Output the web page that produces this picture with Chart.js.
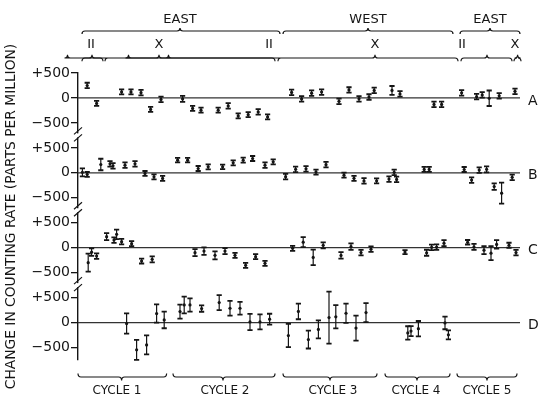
<!DOCTYPE html>
<html><head><meta charset="utf-8">
<script src="https://cdn.jsdelivr.net/npm/chart.js@4.4.1/dist/chart.umd.min.js"></script>
<style>html,body{margin:0;padding:0;background:#fff}#wrap{width:539px;height:396px}</style>
</head><body><div id="wrap"><canvas id="c" width="539" height="396"></canvas></div>
<script>
// ---------- data ----------
const panelNames = ['A', 'B', 'C', 'D'];
const panelOffsets = [2250, 750, -750, -2250];
const tickValues = [500, 0, -500];
const tickLabels = ['+500', '0', '\u2212500'];
const yTitle = 'CHANGE IN COUNTING RATE (PARTS PER MILLION)';

const xA = [4.6, 9.3, 21.8, 26.5, 31.5, 36.3, 41.5, 52.3, 57.3, 61.5, 70.1, 75.1, 80.1, 85.1, 90.1, 94.8, 106.8, 111.8, 116.8, 121.8, 130.5, 135.5, 140.5, 145.5, 148.1, 157, 161, 178, 181.8, 191.8, 199.3, 202.1, 205.6, 210.6, 218.5];
const yA = [250, -110, 120, 120, 105, -230, -30, -20, -210, -245, -245, -160, -360, -335, -280, -380, 110, -20, 95, 117, -67, 160, -17, 19, 150, 150, 80, -130, -130, 103, 25, 60, -6, 43, 133];
const eA = [55, 50, 50, 50, 55, 50, 55, 60, 50, 50, 50, 55, 50, 50, 55, 50, 55, 55, 55, 55, 55, 55, 55, 55, 55, 90, 55, 55, 55, 55, 55, 55, 155, 55, 55];

const xB = [2.2, 4.6, 11.4, 16, 17.5, 23.5, 28.5, 33.5, 38, 42.3, 49.8, 54.8, 60.1, 65.1, 72.3, 77.6, 82.6, 87.3, 93.5, 97.6, 103.8, 108.8, 114, 119, 124, 133, 138, 143, 149.3, 155.5, 158.1, 159.3, 173.1, 175.6, 193.1, 196.8, 200.6, 204.3, 208.1, 211.8, 217.1];
const yB = [10, -33, 167, 180, 140, 153, 180, -13, -80, -113, 253, 253, 87, 120, 120, 200, 253, 287, 153, 220, -77, 70, 80, 15, 163, -47, -110, -163, -160, -125, 10, -133, 68, 68, 67, -145, 56, 70, -275, -407, -90];
const eB = [80, 50, 115, 55, 55, 55, 55, 50, 50, 50, 45, 45, 50, 50, 45, 50, 50, 50, 55, 50, 55, 55, 55, 50, 55, 50, 50, 55, 50, 55, 55, 55, 50, 50, 50, 55, 55, 60, 65, 210, 55];

const xC = [5.1, 6.8, 9.3, 14.3, 18, 19.3, 21.8, 26.8, 31.8, 37.1, 58.5, 63, 68.5, 73.5, 78.5, 83.8, 88.8, 93.5, 107.3, 112.6, 117.6, 122.6, 131.5, 136.5, 141.5, 146.5, 163.5, 174.3, 176.8, 179.3, 183, 194.8, 198, 203, 206.5, 209.3, 215.5, 219];
const yC = [-300, -90, -167, 220, 153, 267, 120, 80, -267, -233, -100, -67, -153, -67, -153, -353, -180, -313, -13, 110, -195, 47, -155, 20, -97, -30, -87, -101, 7, 10, 90, 109, 16, -49, -109, 65, 49, -97];
const eC = [180, 75, 55, 70, 55, 95, 55, 50, 50, 60, 70, 75, 80, 60, 50, 50, 50, 50, 50, 100, 155, 60, 65, 65, 55, 55, 40, 60, 55, 55, 60, 45, 60, 80, 140, 85, 50, 55];

const xD = [24.3, 29.3, 34.3, 39.3, 43.1, 51, 53.1, 56, 61.8, 70.6, 76, 81, 86, 91, 95.8, 105.2, 110.2, 115.2, 120.2, 125.5, 128.9, 134, 139, 144, 164.9, 166.5, 170.2, 183.5, 185.2];
const yD = [-20, -547, -447, 180, 53, 220, 353, 353, 280, 400, 287, 287, 13, 13, 67, -260, 223, -340, -137, 100, 116, 187, -110, 200, -207, -170, -122, -7, -245];
const eD = [203, 200, 190, 183, 167, 140, 167, 133, 63, 150, 147, 127, 163, 150, 110, 233, 157, 180, 180, 520, 233, 193, 250, 190, 133, 100, 153, 127, 90];

// top / bottom bracket annotations (x in data units)
const topRow1 = [ {label:'EAST', from:2, to:101, apex:51}, {label:'WEST', from:102.5, to:187.5, apex:145}, {label:'EAST', from:191, to:221, apex:206} ];
const topRow2Braces = [ {from:2, to:12.5, apex:7, notches:[]}, {from:13.5, to:98.5, apex:40.5, notches:[67.5]}, {from:100, to:190, apex:148.5, notches:[128.5,168.5]}, {from:191.5, to:217, apex:204.5, notches:[]}, {from:218, to:221.5, apex:219.8, notches:[]} ];
const topRow2Labels = [ {label:'II', x:6.5}, {label:'X', x:40.5}, {label:'II', x:95.5}, {label:'X', x:148.5}, {label:'II', x:192}, {label:'X', x:218.5} ];
const cycles = [ {label:'CYCLE 1', from:0, to:44.3, apex:21.8, lx:19.5}, {label:'CYCLE 2', from:47.5, to:98.5, apex:72.5, lx:73.5}, {label:'CYCLE 3', from:102.5, to:149.5, apex:126, lx:127.5}, {label:'CYCLE 4', from:153.5, to:186, apex:169.5, lx:169}, {label:'CYCLE 5', from:189.5, to:219.5, apex:204.5, lx:204.5} ];

const X_MIN = 0, X_MAX = 221, Y_MIN = -3000, Y_MAX = 2750;
const FONT = "'DejaVu Sans', 'Liberation Sans', sans-serif";
const INK = '#151515';

// ---------- build ----------
const panels = [[xA, yA, eA], [xB, yB, eB], [xC, yC, eC], [xD, yD, eD]];
const datasets = [];
panels.forEach((p, k) => {
  const off = panelOffsets[k];
  datasets.push({ type: 'line', data: [{x: X_MIN, y: off}, {x: X_MAX, y: off}], borderColor: '#333', borderWidth: 1.3, pointRadius: 0, order: 2 });
});
panels.forEach((p, k) => {
  const off = panelOffsets[k];
  datasets.push({ type: 'scatter', data: p[0].map((x, i) => ({x: x, y: p[1][i] + off})), err: p[2], backgroundColor: INK, borderColor: INK, pointRadius: 1.6, borderWidth: 0, order: 1 });
});

const allTicks = [];
panelOffsets.forEach(off => tickValues.forEach(v => allTicks.push(v + off)));
function tickLabelFor(v) {
  for (const off of panelOffsets) {
    const i = tickValues.indexOf(Math.round(v - off));
    if (i >= 0) return tickLabels[i];
  }
  return '';
}

function brace(ctx, x1, x2, xa, y, dir, h, notches) {
  const r = 3;
  ctx.beginPath();
  ctx.moveTo(x1, y - dir * h);
  ctx.quadraticCurveTo(x1, y, x1 + r, y);
  const pts = [xa].concat(notches || []).sort((a, b) => a - b);
  pts.forEach(p => {
    ctx.lineTo(p - r, y);
    ctx.quadraticCurveTo(p, y, p, y + dir * h);
    ctx.quadraticCurveTo(p, y, p + r, y);
  });
  ctx.lineTo(x2 - r, y);
  ctx.quadraticCurveTo(x2, y, x2, y - dir * h);
  ctx.stroke();
}

const decor = {
  id: 'decor',
  afterDatasetsDraw(chart) {
    const ctx = chart.ctx, xs = chart.scales.x, ys = chart.scales.y;
    ctx.save();
    ctx.strokeStyle = INK; ctx.fillStyle = INK;
    chart.data.datasets.forEach((ds, di) => {
      if (!ds.err) return;
      const meta = chart.getDatasetMeta(di);
      meta.data.forEach((el, i) => {
        const v = ds.data[i].y, e = ds.err[i];
        const px = el.x, t = ys.getPixelForValue(v + e), b = ys.getPixelForValue(v - e);
        ctx.lineWidth = 1.2;
        ctx.beginPath(); ctx.moveTo(px, t); ctx.lineTo(px, b); ctx.stroke();
        ctx.lineWidth = 1.8;
        ctx.beginPath(); ctx.moveTo(px - 2.6, t); ctx.lineTo(px + 2.6, t); ctx.moveTo(px - 2.6, b); ctx.lineTo(px + 2.6, b); ctx.stroke();
      });
    });
    ctx.restore();
  },
  afterDraw(chart) {
    const ctx = chart.ctx, xs = chart.scales.x, ys = chart.scales.y, ca = chart.chartArea;
    const X = v => xs.getPixelForValue(v);
    ctx.save();
    // axis breaks
    [1500, 0, -1500].forEach(v => {
      const py = ys.getPixelForValue(v), x = ca.left;
      ctx.fillStyle = '#fff';
      ctx.fillRect(x - 2, py - 2, 4, 4);
      ctx.strokeStyle = INK; ctx.lineWidth = 1.2;
      ctx.beginPath();
      ctx.moveTo(x - 4, py - 1); ctx.lineTo(x + 4, py - 8);
      ctx.moveTo(x - 4, py + 6); ctx.lineTo(x + 4, py - 1);
      ctx.stroke();
    });
    ctx.strokeStyle = INK; ctx.fillStyle = INK; ctx.lineWidth = 1.2;
    ctx.textAlign = 'center'; ctx.textBaseline = 'middle';
    // top row 1
    ctx.font = '13px ' + FONT;
    topRow1.forEach(b => { brace(ctx, X(b.from), X(b.to), X(b.apex), 31, -1, 3, []); ctx.fillText(b.label, X(b.apex), 19.5); });
    // top row 2
    topRow2Braces.forEach(b => brace(ctx, X(b.from), X(b.to), X(b.apex), 58, -1, 3.3, b.notches));
    topRow2Labels.forEach(l => ctx.fillText(l.label, X(l.x), 45));
    // bottom cycles
    ctx.font = '12px ' + FONT;
    cycles.forEach(c => { brace(ctx, X(c.from), X(c.to), X(c.apex), 377, 1, 3.5, []); ctx.fillText(c.label, X(c.lx), 390.5); });
    // panel letters
    ctx.font = '14px ' + FONT; ctx.textAlign = 'left';
    panelOffsets.forEach((off, k) => ctx.fillText(panelNames[k], ca.right + 8, ys.getPixelForValue(off) + 3));
    ctx.restore();
  }
};

new Chart(document.getElementById('c'), {
  data: { datasets: datasets },
  plugins: [decor],
  options: {
    responsive: false, animation: false, devicePixelRatio: 1,
    layout: { padding: { top: 73, bottom: 36, right: 19, left: 0 } },
    plugins: { legend: { display: false }, tooltip: { enabled: false } },
    scales: {
      x: { type: 'linear', min: X_MIN, max: X_MAX, display: false },
      y: {
        type: 'linear', min: Y_MIN, max: Y_MAX,
        afterFit(s) { s.width = 78; },
        afterBuildTicks(s) { s.ticks = allTicks.map(v => ({ value: v })); },
        border: { display: true, color: INK, width: 1.4 },
        grid: { drawOnChartArea: false, drawTicks: true, tickLength: 7, color: INK, lineWidth: 1.3 },
        ticks: {
          color: INK, padding: 1, font: { family: FONT, size: 14 },
          autoSkip: false,
          callback(v) { return tickLabelFor(v); }
        },
        title: { display: true, text: yTitle, color: INK, font: { family: FONT, size: 13.8 }, padding: { top: 3, bottom: 0 } }
      }
    }
  }
});
</script></body></html>
